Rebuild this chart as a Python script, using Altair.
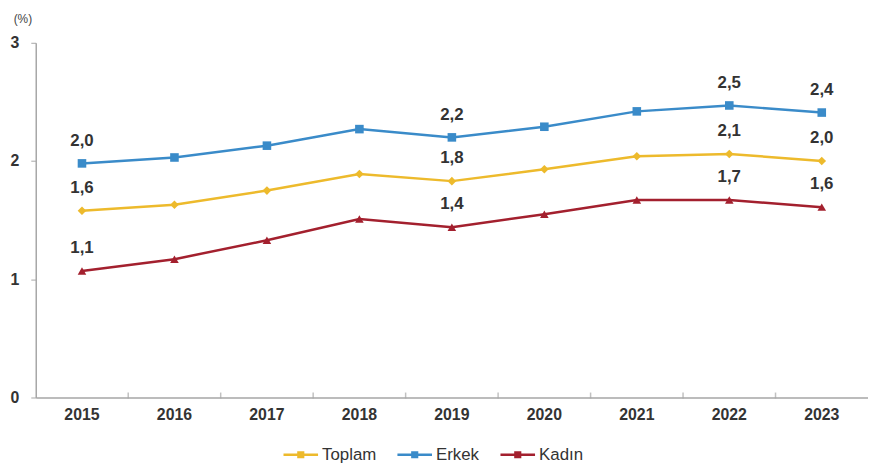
import altair as alt
import pandas as pd

years = ["2015", "2016", "2017", "2018", "2019", "2020", "2021", "2022", "2023"]
toplam = [1.58, 1.63, 1.75, 1.89, 1.83, 1.93, 2.04, 2.06, 2.00]
erkek = [1.98, 2.03, 2.13, 2.27, 2.20, 2.29, 2.42, 2.47, 2.41]
kadin = [1.07, 1.17, 1.33, 1.51, 1.44, 1.55, 1.67, 1.67, 1.61]
series = ["Toplam", "Erkek", "Kadın"]
colors = ["#EDBA2C", "#3A8BC9", "#A3202E"]
shapes = ["diamond", "square", "triangle-up"]
label_years = ["2015", "2019", "2022", "2023"]

rows = []
for name, vals in zip(series, [toplam, erkek, kadin]):
    for y, v in zip(years, vals):
        rows.append({"year": y, "value": v, "series": name, "grp": name,
                     "label": f"{v:.1f}".replace(".", ",") if y in label_years else ""})
df = pd.DataFrame(rows)

bounds = pd.DataFrame({"year": years[1:]})

font = "Liberation Sans"
x = alt.X("year:O", title=None,
          scale=alt.Scale(paddingInner=0, paddingOuter=0),
          axis=alt.Axis(labelAngle=0, ticks=False, labelFont=font, labelFontSize=16,
                        labelFontWeight="bold", labelColor="#333333", labelPadding=9,
                        domainColor="#A6A6A6", domainWidth=1.5))
y = alt.Y("value:Q", title=None,
          scale=alt.Scale(domain=[0, 3], nice=False),
          axis=alt.Axis(values=[0, 1, 2, 3], format="d", grid=False, tickSize=5,
                        tickColor="#A6A6A6", domainColor="#A6A6A6", domainWidth=1.5,
                        labelFont=font, labelFontSize=16, labelFontWeight="bold",
                        labelColor="#333333", labelPadding=12))
color = alt.Color("series:N", scale=alt.Scale(domain=series, range=colors),
                  sort=series,
                  legend=alt.Legend(title=None, orient="none", direction="horizontal",
                                    legendX=259, legendY=407,
                                    labelFont=font, labelFontSize=17, labelColor="#333333",
                                    symbolType="M-2.6,0H2.6M-0.35,-0.35H0.35V0.35H-0.35Z",
                                    symbolSize=180, symbolStrokeWidth=2.5,
                                    columnPadding=16, labelOffset=13))

base = alt.Chart(df)
lines = base.mark_line(strokeWidth=2.5).encode(x=x, y=y, color=color)
pts = base.mark_point(filled=True, size=75, opacity=1).encode(
    x="year:O", y="value:Q",
    fill=alt.Fill("grp:N", scale=alt.Scale(domain=series, range=colors), legend=None),
    shape=alt.Shape("grp:N", scale=alt.Scale(domain=series, range=shapes), legend=None))
labels = base.mark_text(dy=-23, font=font, fontSize=17, fontWeight="bold",
                        color="#333333").encode(x="year:O", y="value:Q", text="label:N")
ticks = alt.Chart(bounds).mark_tick(orient="vertical", size=6, thickness=1.5,
                                    color="#A6A6A6", yOffset=-2).encode(
    x=alt.X("year:O", bandPosition=0), y=alt.datum(0))
pct = alt.Chart(pd.DataFrame({"t": ["(%)"]})).mark_text(
    font=font, fontSize=12, color="#444444", align="center").encode(
    text="t:N", x=alt.value(-13), y=alt.value(-24))

chart = alt.layer(lines, pts, labels, ticks, pct).resolve_scale(
    color="independent", fill="independent", shape="independent"
).properties(
    width=840, height=358,
    padding={"left": 28, "top": 33, "right": 0, "bottom": 65},
    autosize=alt.AutoSizeParams(type="none"),
).configure_view(stroke=None)

chart.save("out.html", embed_options={"renderer": "svg", "actions": False})
